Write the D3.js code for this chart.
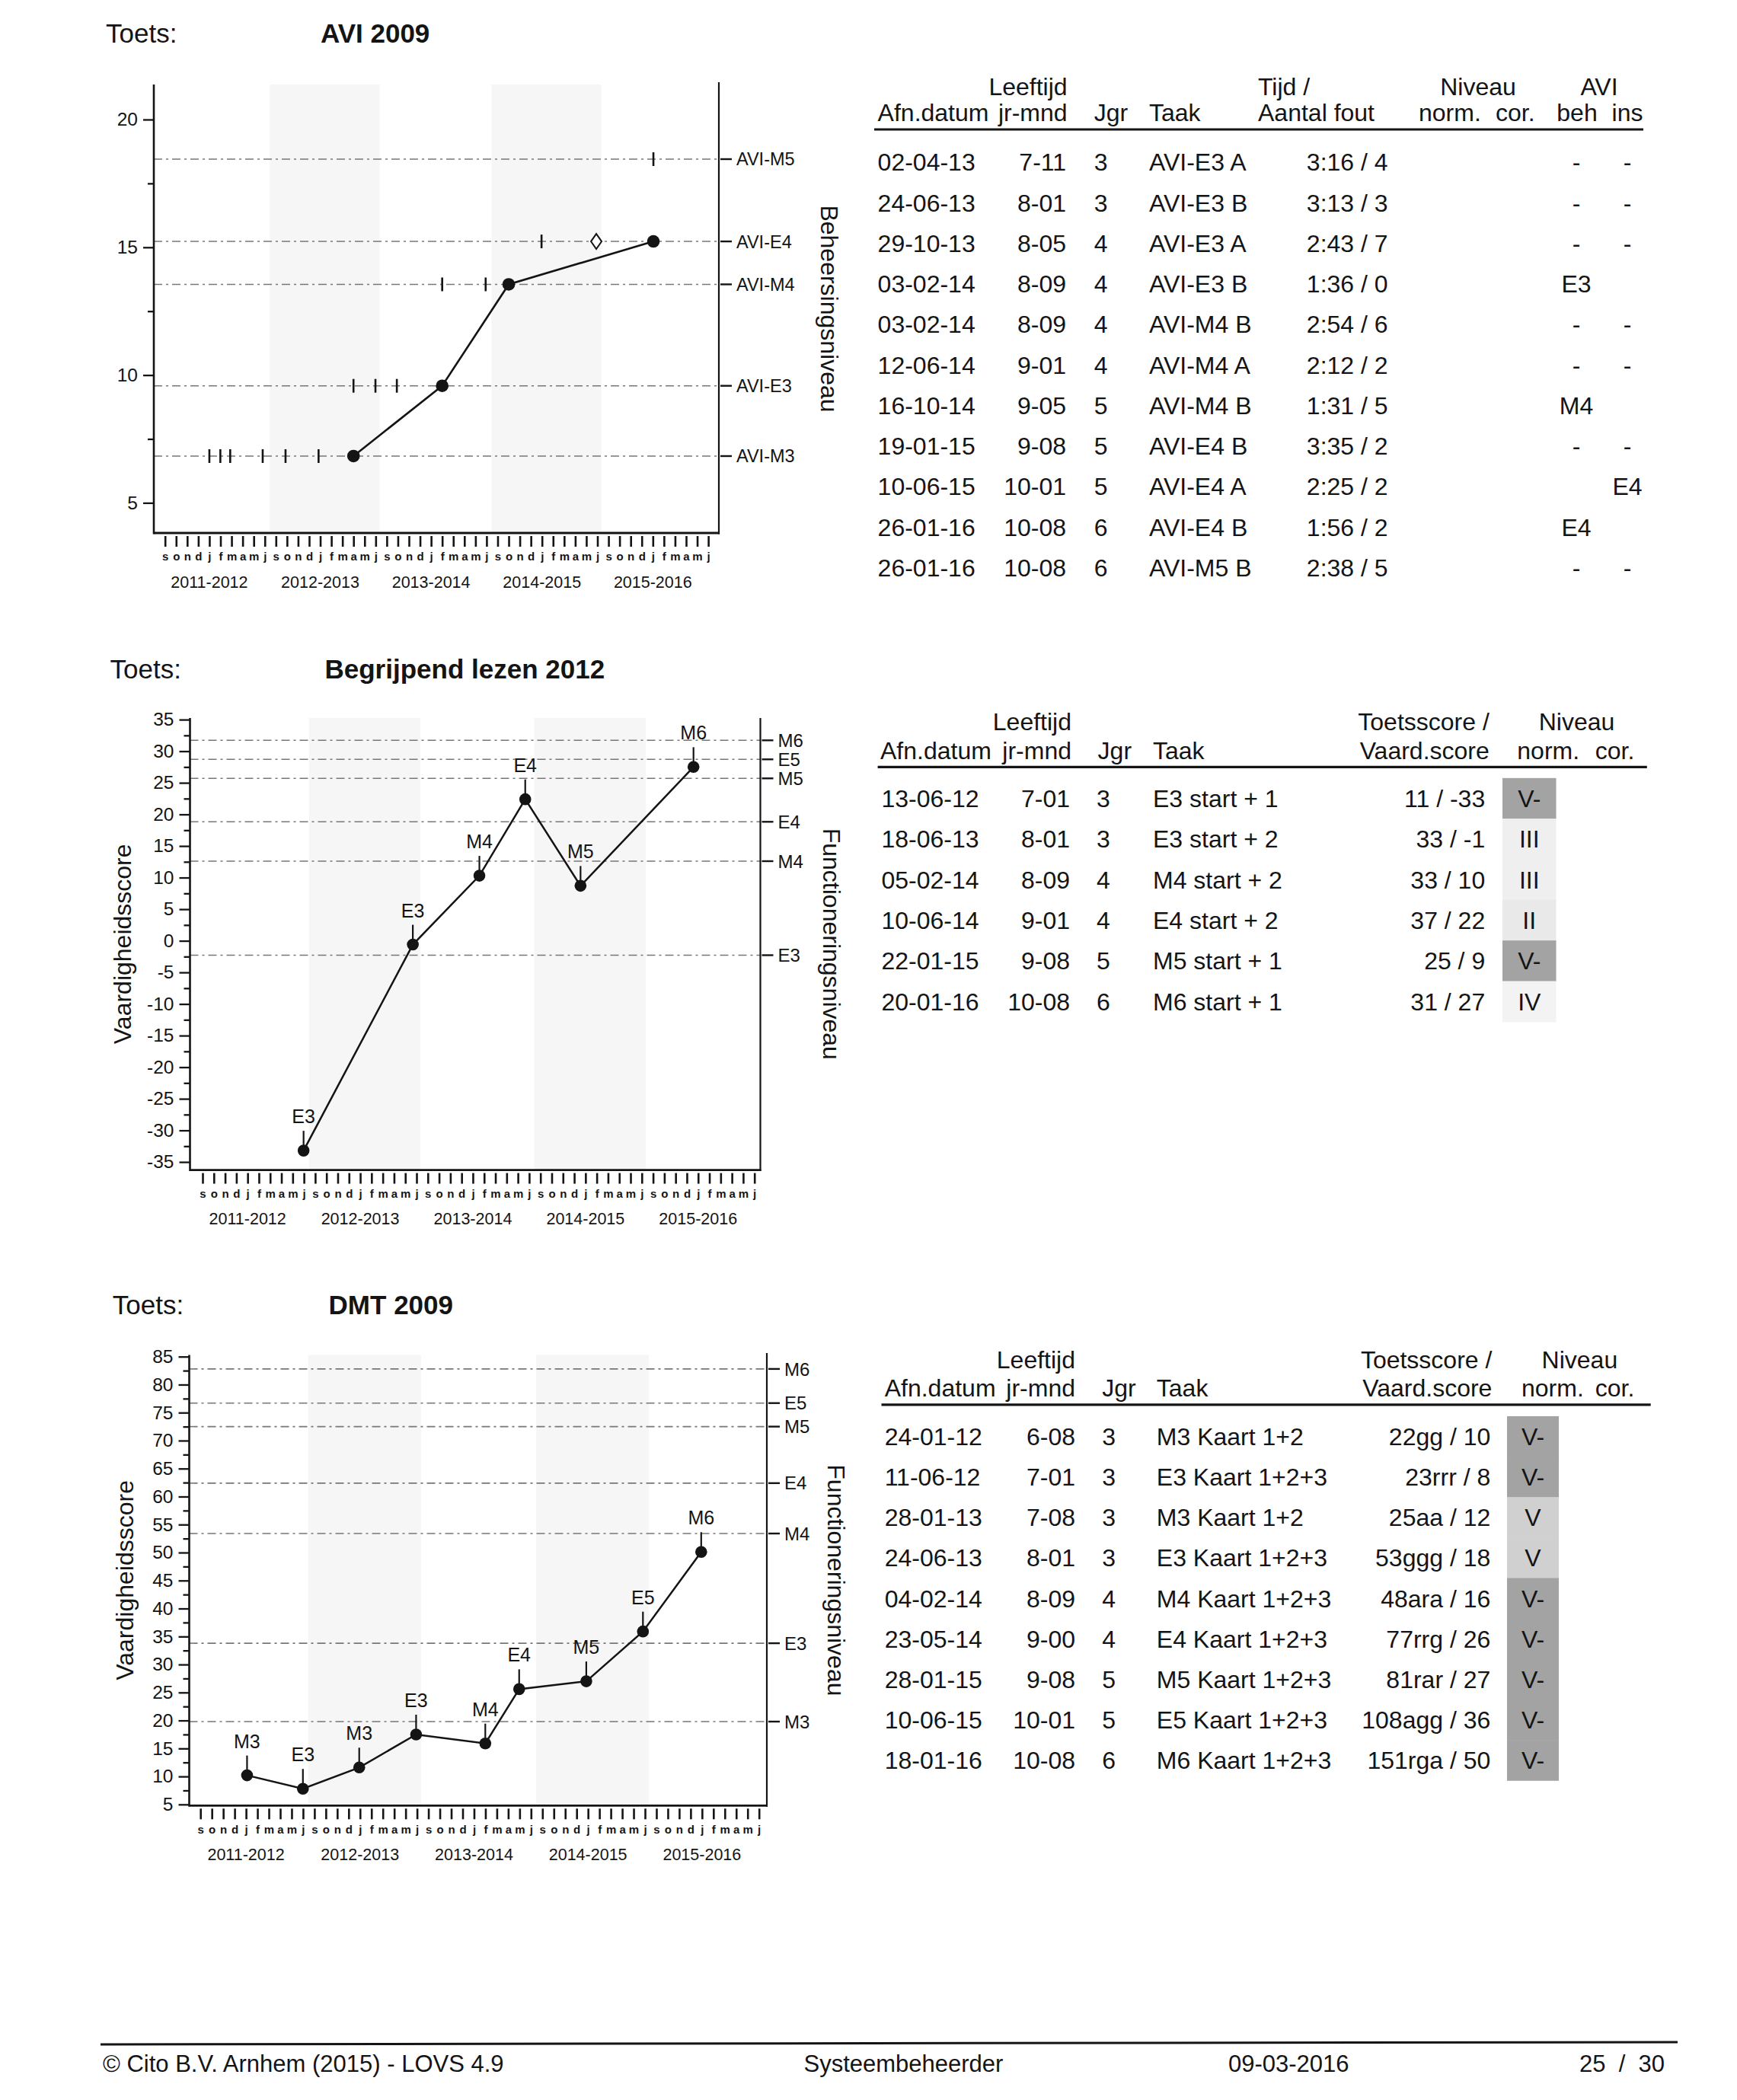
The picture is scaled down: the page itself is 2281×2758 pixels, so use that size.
<!DOCTYPE html>
<html>
<head>
<meta charset="utf-8">
<script src="https://cdn.jsdelivr.net/npm/d3@7"></script>
<style>
  html, body { margin: 0; padding: 0; background: #ffffff; }
  svg { display: block; }
</style>
</head>
<body>
<svg id="page" width="2281" height="2758"></svg>
<script>
// ------------------------------------------------------------------ DATA
const MONTH_LABELS = ["s","o","n","d","j","f","m","a","m","j"];
const SCHOOL_YEARS = ["2011-2012","2012-2013","2013-2014","2014-2015","2015-2016"];
const SHADED_YEARS = [1, 3];

// --- AVI 2009 chart
const aviLevelNames  = ["AVI-M3","AVI-E3","AVI-M4","AVI-E4","AVI-M5"];
const aviLevelValues = [6.83, 9.58, 13.55, 15.23, 18.45];
const aviMajorTicks  = [5, 10, 15, 20];
const aviMinorTicks  = [7.5, 12.5, 17.5];
const aviMasteryMonth = [17.0, 25.0, 31.0, 44.05];
const aviMasteryLevel = ["AVI-M3","AVI-E3","AVI-M4","AVI-E4"];
const aviAttemptMonth = [4.0, 4.99, 5.88, 8.81, 10.87, 13.85, 17.0, 18.98, 20.91, 25.0, 28.92, 33.96, 44.05];
const aviAttemptLevel = ["AVI-M3","AVI-M3","AVI-M3","AVI-M3","AVI-M3","AVI-M3",
                         "AVI-E3","AVI-E3","AVI-E3","AVI-M4","AVI-M4","AVI-E4","AVI-M5"];
const aviInstructionMonth = [38.9];
const aviInstructionLevel = ["AVI-E4"];

// --- AVI 2009 table
const aviDates  = ["02-04-13","24-06-13","29-10-13","03-02-14","03-02-14","12-06-14","16-10-14","19-01-15","10-06-15","26-01-16","26-01-16"];
const aviAges   = ["7-11","8-01","8-05","8-09","8-09","9-01","9-05","9-08","10-01","10-08","10-08"];
const aviGroups = ["3","3","4","4","4","4","5","5","5","6","6"];
const aviTasks  = ["AVI-E3 A","AVI-E3 B","AVI-E3 A","AVI-E3 B","AVI-M4 B","AVI-M4 A","AVI-M4 B","AVI-E4 B","AVI-E4 A","AVI-E4 B","AVI-M5 B"];
const aviTimes  = ["3:16 / 4","3:13 / 3","2:43 / 7","1:36 / 0","2:54 / 6","2:12 / 2","1:31 / 5","3:35 / 2","2:25 / 2","1:56 / 2","2:38 / 5"];
const aviBeh    = ["-","-","-","E3","-","-","M4","-","","E4","-"];
const aviIns    = ["-","-","-","","-","-","","-","E4","","-"];

// --- Begrijpend lezen 2012 chart
const blLevelNames  = ["E3","M4","E4","M5","E5","M6"];
const blLevelValues = [-2.28, 12.6, 18.83, 25.7, 28.71, 31.72];
const blMajorTicks  = [-35,-30,-25,-20,-15,-10,-5,0,5,10,15,20,25,30,35];
const blMinorTicks  = [-32.5,-27.5,-22.5,-17.5,-12.5,-7.5,-2.5,2.5,7.5,12.5,17.5,22.5,27.5,32.5];
const blMonth       = [8.97, 18.67, 24.58, 28.65, 33.56, 43.59];
const blScore       = [-33.2, -0.6, 10.3, 22.4, 8.7, 27.5];
const blPointLabels = ["E3","E3","M4","E4","M5","M6"];

// --- Begrijpend lezen 2012 table
const blDates  = ["13-06-12","18-06-13","05-02-14","10-06-14","22-01-15","20-01-16"];
const blAges   = ["7-01","8-01","8-09","9-01","9-08","10-08"];
const blGroups = ["3","3","4","4","5","6"];
const blTasks  = ["E3 start + 1","E3 start + 2","M4 start + 2","E4 start + 2","M5 start + 1","M6 start + 1"];
const blScores = ["11 / -33","33 / -1","33 / 10","37 / 22","25 / 9","31 / 27"];
const blNorm   = ["V-","III","III","II","V-","IV"];

// --- DMT 2009 chart
const dmtLevelNames  = ["M3","E3","M4","E4","M5","E5","M6"];
const dmtLevelValues = [19.8, 33.8, 53.4, 62.4, 72.5, 76.7, 82.8];
const dmtMajorTicks  = [5,10,15,20,25,30,35,40,45,50,55,60,65,70,75,80,85];
const dmtMinorTicks  = [7.5,12.5,17.5,22.5,27.5,32.5,37.5,42.5,47.5,52.5,57.5,62.5,67.5,72.5,77.5,82.5];
const dmtMonth       = [4.09, 8.99, 13.93, 18.92, 24.99, 27.96, 33.85, 38.82, 43.93];
const dmtScore       = [10.2, 7.8, 11.6, 17.5, 15.9, 25.6, 27.0, 35.9, 50.1];
const dmtPointLabels = ["M3","E3","M3","E3","M4","E4","M5","E5","M6"];

// --- DMT 2009 table
const dmtDates  = ["24-01-12","11-06-12","28-01-13","24-06-13","04-02-14","23-05-14","28-01-15","10-06-15","18-01-16"];
const dmtAges   = ["6-08","7-01","7-08","8-01","8-09","9-00","9-08","10-01","10-08"];
const dmtGroups = ["3","3","3","3","4","4","5","5","6"];
const dmtTasks  = ["M3 Kaart 1+2","E3 Kaart 1+2+3","M3 Kaart 1+2","E3 Kaart 1+2+3","M4 Kaart 1+2+3","E4 Kaart 1+2+3","M5 Kaart 1+2+3","E5 Kaart 1+2+3","M6 Kaart 1+2+3"];
const dmtScores = ["22gg / 10","23rrr / 8","25aa / 12","53ggg / 18","48ara / 16","77rrg / 26","81rar / 27","108agg / 36","151rga / 50"];
const dmtNorm   = ["V-","V-","V","V","V-","V-","V-","V-","V-"];

// ------------------------------------------------------------------ STYLE / LAYOUT
const FONT = '"Liberation Sans", Arial, Helvetica, sans-serif';
const INK = "#141414";
const NORM_FILL = { "V-": "#a3a3a3", "V": "#d0d0d0", "IV": "#f3f3f3", "III": "#efefef", "II": "#e9e9e9" };

const svg = d3.select("#page").attr("font-family", FONT).attr("fill", INK);

function txt(parent, x, y, s, size, anchor, weight) {
  return parent.append("text").attr("x", x).attr("y", y)
    .attr("font-size", size).attr("text-anchor", anchor || "start")
    .attr("font-weight", weight || "normal").attr("fill", INK).text(s);
}

function title(L, name) {
  txt(svg, L.toetsX, L.titleY, "Toets:", 35);
  txt(svg, L.nameX, L.titleY, name, 35, "start", "bold");
}

function drawChart(L, levelNames, levelValues, majorTicks, minorTicks) {
  const g = svg.append("g");
  const x = d3.scaleLinear().domain([0, 49]).range([L.tick0, L.tick49]);
  const y = d3.scaleLinear().domain(L.yDomain).range([L.bottom, L.top]);

  // shaded school years
  g.selectAll("rect.band").data(SHADED_YEARS).join("rect")
    .attr("x", k => x(k * 10 - 0.55))
    .attr("width", k => x(k * 10 + 9.35) - x(k * 10 - 0.55))
    .attr("y", L.top).attr("height", L.bottom - L.top)
    .attr("fill", "#f6f6f6");

  // reference level lines
  g.selectAll("line.ref").data(levelValues).join("line")
    .attr("x1", L.left).attr("x2", L.right)
    .attr("y1", d => y(d)).attr("y2", d => y(d))
    .attr("stroke", "#777777").attr("stroke-width", 1.6)
    .attr("stroke-dasharray", "11,5,3,5");

  // left axis (major + minor ticks)
  const ya = g.append("g").attr("transform", `translate(${L.left},0)`)
    .call(d3.axisLeft(y).tickValues(majorTicks).tickSize(14).tickPadding(7).tickFormat(d => String(d)));
  ya.select(".domain").remove();
  ya.selectAll("line").attr("stroke", INK).attr("stroke-width", 2.3);
  ya.selectAll("text").attr("font-size", 24.5).attr("font-family", FONT).attr("fill", INK);
  const ym = g.append("g").attr("transform", `translate(${L.left},0)`)
    .call(d3.axisLeft(y).tickValues(minorTicks).tickSize(8).tickFormat(""));
  ym.select(".domain").remove();
  ym.selectAll("line").attr("stroke", INK).attr("stroke-width", 2.3);

  // frame lines
  g.append("line").attr("x1", L.left).attr("x2", L.left).attr("y1", L.top).attr("y2", L.bottom + 1.5)
    .attr("stroke", INK).attr("stroke-width", 2.6);
  g.append("line").attr("x1", L.right).attr("x2", L.right).attr("y1", L.rightTop).attr("y2", L.bottom + 1.5)
    .attr("stroke", INK).attr("stroke-width", 2.2);
  g.append("line").attr("x1", L.left).attr("x2", L.right + 1).attr("y1", L.bottom).attr("y2", L.bottom)
    .attr("stroke", INK).attr("stroke-width", 2.8);

  // right level ticks + labels
  const yr = d3.scaleOrdinal().domain(levelNames).range(levelValues);
  g.selectAll("line.lvl").data(levelNames).join("line")
    .attr("x1", L.right + 2).attr("x2", L.right + 17)
    .attr("y1", d => y(yr(d))).attr("y2", d => y(yr(d)))
    .attr("stroke", INK).attr("stroke-width", 2.4);
  g.selectAll("text.lvl").data(levelNames).join("text")
    .attr("x", L.right + 23).attr("y", d => y(yr(d))).attr("dy", "0.36em")
    .attr("font-size", L.lvlSize).attr("fill", INK).text(d => d);

  // month axis
  const xa = g.append("g").attr("transform", `translate(0,${L.bottom + 4})`)
    .call(d3.axisBottom(x).tickValues(d3.range(50)).tickSize(14).tickFormat(i => MONTH_LABELS[i % 10]));
  xa.select(".domain").remove();
  xa.selectAll("line").attr("stroke", INK).attr("stroke-width", 2.6);
  xa.selectAll("text").attr("y", 27).attr("dy", "0.35em")
    .attr("font-size", 15).attr("font-weight", "bold").attr("font-family", FONT).attr("fill", INK);

  g.selectAll("text.year").data(SCHOOL_YEARS).join("text")
    .attr("x", (d, i) => x(i * 10 + 4)).attr("y", L.bottom + 64).attr("dy", "0.36em")
    .attr("text-anchor", "middle").attr("font-size", 21.5).attr("fill", INK).text(d => d);

  // axis titles
  const cy = (L.top + L.bottom) / 2;
  if (L.leftTitle) {
    g.append("text").attr("transform", `translate(${L.leftTitleX},${cy}) rotate(-90)`)
      .attr("dy", "0.36em").attr("text-anchor", "middle").attr("font-size", 32).attr("fill", INK)
      .text(L.leftTitle);
  }
  g.append("text").attr("transform", `translate(${L.rightTitleX},${cy}) rotate(90)`)
    .attr("dy", "0.36em").attr("text-anchor", "middle").attr("font-size", 32).attr("fill", INK)
    .text(L.rightTitle);

  return { g, x, y, yr };
}

function drawScoreLine(c, months, scores, labels) {
  const idx = d3.range(months.length);
  const line = d3.line().x(i => c.x(months[i])).y(i => c.y(scores[i]));
  c.g.append("path").datum(idx).attr("d", line)
    .attr("fill", "none").attr("stroke", INK).attr("stroke-width", 2.5);
  c.g.selectAll("line.pin").data(idx).join("line")
    .attr("x1", i => c.x(months[i])).attr("x2", i => c.x(months[i]))
    .attr("y1", i => c.y(scores[i]) - 7).attr("y2", i => c.y(scores[i]) - 26)
    .attr("stroke", INK).attr("stroke-width", 2.2);
  c.g.selectAll("circle.pt").data(idx).join("circle")
    .attr("cx", i => c.x(months[i])).attr("cy", i => c.y(scores[i])).attr("r", 7.8)
    .attr("fill", INK);
  c.g.selectAll("text.pt").data(idx).join("text")
    .attr("x", i => c.x(months[i])).attr("y", i => c.y(scores[i]) - 36)
    .attr("text-anchor", "middle").attr("font-size", 25).attr("fill", INK).text(i => labels[i]);
}

function drawTable(T, headerRows, columns, nRows, norm) {
  const g = svg.append("g");
  headerRows.forEach((row, r) => {
    row.forEach(h => txt(g, h[1], T.headY[r], h[0], 32, h[2]));
  });
  g.append("line").attr("x1", T.ruleX1).attr("x2", T.ruleX2).attr("y1", T.ruleY).attr("y2", T.ruleY)
    .attr("stroke", INK).attr("stroke-width", 3.2);
  const rowY = d3.scaleLinear().domain([0, 1]).range([T.row0, T.row0 + T.rowStep]);
  if (norm) {
    g.selectAll("rect.norm").data(norm).join("rect")
      .attr("x", T.normX1).attr("width", T.normX2 - T.normX1)
      .attr("y", (d, i) => rowY(i) - 11.5 - T.rowStep / 2).attr("height", T.rowStep + 0.5)
      .attr("fill", d => NORM_FILL[d]);
    g.selectAll("text.norm").data(norm).join("text")
      .attr("x", (T.normX1 + T.normX2) / 2).attr("y", (d, i) => rowY(i))
      .attr("text-anchor", "middle").attr("font-size", 32).attr("fill", INK).text(d => d);
  }
  columns.forEach(col => {
    g.selectAll(null).data(col.values).join("text")
      .attr("x", col.x).attr("y", (d, i) => rowY(i))
      .attr("text-anchor", col.anchor).attr("font-size", 32).attr("fill", INK).text(d => d);
  });
}

// ------------------------------------------------------------------ AVI 2009
const L1 = { toetsX: 139, nameX: 421, titleY: 56,
  left: 202, right: 944, top: 111, rightTop: 108, bottom: 700,
  tick0: 216.7, tick49: 930.1, yDomain: [3.82, 21.37], lvlSize: 23.5,
  rightTitle: "Beheersingsniveau", rightTitleX: 1090 };
title(L1, "AVI 2009");
const c1 = drawChart(L1, aviLevelNames, aviLevelValues, aviMajorTicks, aviMinorTicks);
{
  const idx = d3.range(aviAttemptMonth.length);
  c1.g.selectAll("line.attempt").data(idx).join("line")
    .attr("x1", i => c1.x(aviAttemptMonth[i])).attr("x2", i => c1.x(aviAttemptMonth[i]))
    .attr("y1", i => c1.y(c1.yr(aviAttemptLevel[i])) - 9)
    .attr("y2", i => c1.y(c1.yr(aviAttemptLevel[i])) + 9)
    .attr("stroke", INK).attr("stroke-width", 2.6);
  c1.g.selectAll("path.instr").data(d3.range(aviInstructionMonth.length)).join("path")
    .attr("d", i => {
      const cx = c1.x(aviInstructionMonth[i]), cy = c1.y(c1.yr(aviInstructionLevel[i]));
      return `M${cx},${cy - 10}L${cx + 7},${cy}L${cx},${cy + 10}L${cx - 7},${cy}Z`;
    })
    .attr("fill", "#ffffff").attr("stroke", INK).attr("stroke-width", 2);
  const m = d3.range(aviMasteryMonth.length);
  const line = d3.line().x(i => c1.x(aviMasteryMonth[i])).y(i => c1.y(c1.yr(aviMasteryLevel[i])));
  c1.g.append("path").datum(m).attr("d", line).attr("fill", "none").attr("stroke", INK).attr("stroke-width", 2.6);
  c1.g.selectAll("circle.mast").data(m).join("circle")
    .attr("cx", i => c1.x(aviMasteryMonth[i])).attr("cy", i => c1.y(c1.yr(aviMasteryLevel[i])))
    .attr("r", 8.3).attr("fill", INK);
}
drawTable({ headY: [124.5, 158.7], ruleX1: 1148, ruleX2: 2158, ruleY: 170, row0: 224.4, rowStep: 53.26 },
  [
    [["Leeftijd", 1401.6, "end"], ["Tijd /", 1652, "start"], ["Niveau", 1941, "middle"], ["AVI", 2100, "middle"]],
    [["Afn.datum", 1152.6, "start"], ["jr-mnd", 1401.6, "end"], ["Jgr", 1436.7, "start"], ["Taak", 1509, "start"],
     ["Aantal fout", 1652, "start"], ["norm.", 1863, "start"], ["cor.", 1964, "start"],
     ["beh", 2071, "middle"], ["ins", 2137, "middle"]]
  ],
  [
    { values: aviDates, x: 1152.6, anchor: "start" },
    { values: aviAges, x: 1400, anchor: "end" },
    { values: aviGroups, x: 1436.7, anchor: "start" },
    { values: aviTasks, x: 1509, anchor: "start" },
    { values: aviTimes, x: 1822.6, anchor: "end" },
    { values: aviBeh, x: 2070, anchor: "middle" },
    { values: aviIns, x: 2137, anchor: "middle" }
  ], aviDates.length, null);

// ------------------------------------------------------------------ Begrijpend lezen 2012
const L2 = { toetsX: 144.6, nameX: 426.5, titleY: 891,
  left: 249.5, right: 998.5, top: 943, rightTop: 943, bottom: 1536.6,
  tick0: 266, tick49: 990.7, yDomain: [-36.27, 35.25], lvlSize: 24,
  leftTitle: "Vaardigheidsscore", leftTitleX: 160.6,
  rightTitle: "Functioneringsniveau", rightTitleX: 1093 };
title(L2, "Begrijpend lezen 2012");
const c2 = drawChart(L2, blLevelNames, blLevelValues, blMajorTicks, blMinorTicks);
drawScoreLine(c2, blMonth, blScore, blPointLabels);
drawTable({ headY: [959, 996.7], ruleX1: 1152.6, ruleX2: 2162.8, ruleY: 1007.3, row0: 1060, rowStep: 53.33,
            normX1: 1973, normX2: 2043.5 },
  [
    [["Leeftijd", 1407, "end"], ["Toetsscore /", 1955.8, "end"], ["Niveau", 2070.5, "middle"]],
    [["Afn.datum", 1156, "start"], ["jr-mnd", 1407, "end"], ["Jgr", 1441.6, "start"], ["Taak", 1514, "start"],
     ["Vaard.score", 1955.8, "end"], ["norm.", 1992.3, "start"], ["cor.", 2094.7, "start"]]
  ],
  [
    { values: blDates, x: 1157.5, anchor: "start" },
    { values: blAges, x: 1405, anchor: "end" },
    { values: blGroups, x: 1440, anchor: "start" },
    { values: blTasks, x: 1514, anchor: "start" },
    { values: blScores, x: 1950.2, anchor: "end" }
  ], blDates.length, blNorm);

// ------------------------------------------------------------------ DMT 2009
const L3 = { toetsX: 147.8, nameX: 431.6, titleY: 1726,
  left: 248.5, right: 1007, top: 1779.5, rightTop: 1777, bottom: 2371.3,
  tick0: 263.2, tick49: 996.7, yDomain: [4.8, 85.3], lvlSize: 24,
  leftTitle: "Vaardigheidsscore", leftTitleX: 163.6,
  rightTitle: "Functioneringsniveau", rightTitleX: 1099 };
title(L3, "DMT 2009");
const c3 = drawChart(L3, dmtLevelNames, dmtLevelValues, dmtMajorTicks, dmtMinorTicks);
drawScoreLine(c3, dmtMonth, dmtScore, dmtPointLabels);
drawTable({ headY: [1797, 1833.5], ruleX1: 1157.5, ruleX2: 2167.7, ruleY: 1844.8, row0: 1898, rowStep: 53.15,
            normX1: 1979, normX2: 2047 },
  [
    [["Leeftijd", 1412, "end"], ["Toetsscore /", 1959.4, "end"], ["Niveau", 2074.4, "middle"]],
    [["Afn.datum", 1161.7, "start"], ["jr-mnd", 1412, "end"], ["Jgr", 1447.2, "start"], ["Taak", 1518.8, "start"],
     ["Vaard.score", 1959.4, "end"], ["norm.", 1998, "start"], ["cor.", 2094.7, "start"]]
  ],
  [
    { values: dmtDates, x: 1161.7, anchor: "start" },
    { values: dmtAges, x: 1412, anchor: "end" },
    { values: dmtGroups, x: 1447.2, anchor: "start" },
    { values: dmtTasks, x: 1518.8, anchor: "start" },
    { values: dmtScores, x: 1957.3, anchor: "end" }
  ], dmtDates.length, dmtNorm);

// ------------------------------------------------------------------ footer
svg.append("line").attr("x1", 132).attr("x2", 2203).attr("y1", 2685).attr("y2", 2682)
  .attr("stroke", INK).attr("stroke-width", 3);
txt(svg, 135, 2721, "\u00A9 Cito B.V. Arnhem (2015) - LOVS 4.9", 31);
txt(svg, 1055.5, 2721, "Systeembeheerder", 31);
txt(svg, 1613, 2721, "09-03-2016", 31);
txt(svg, 2186, 2721, "25\u00A0\u00A0/\u00A0\u00A030", 31, "end");
</script>
</body>
</html>
